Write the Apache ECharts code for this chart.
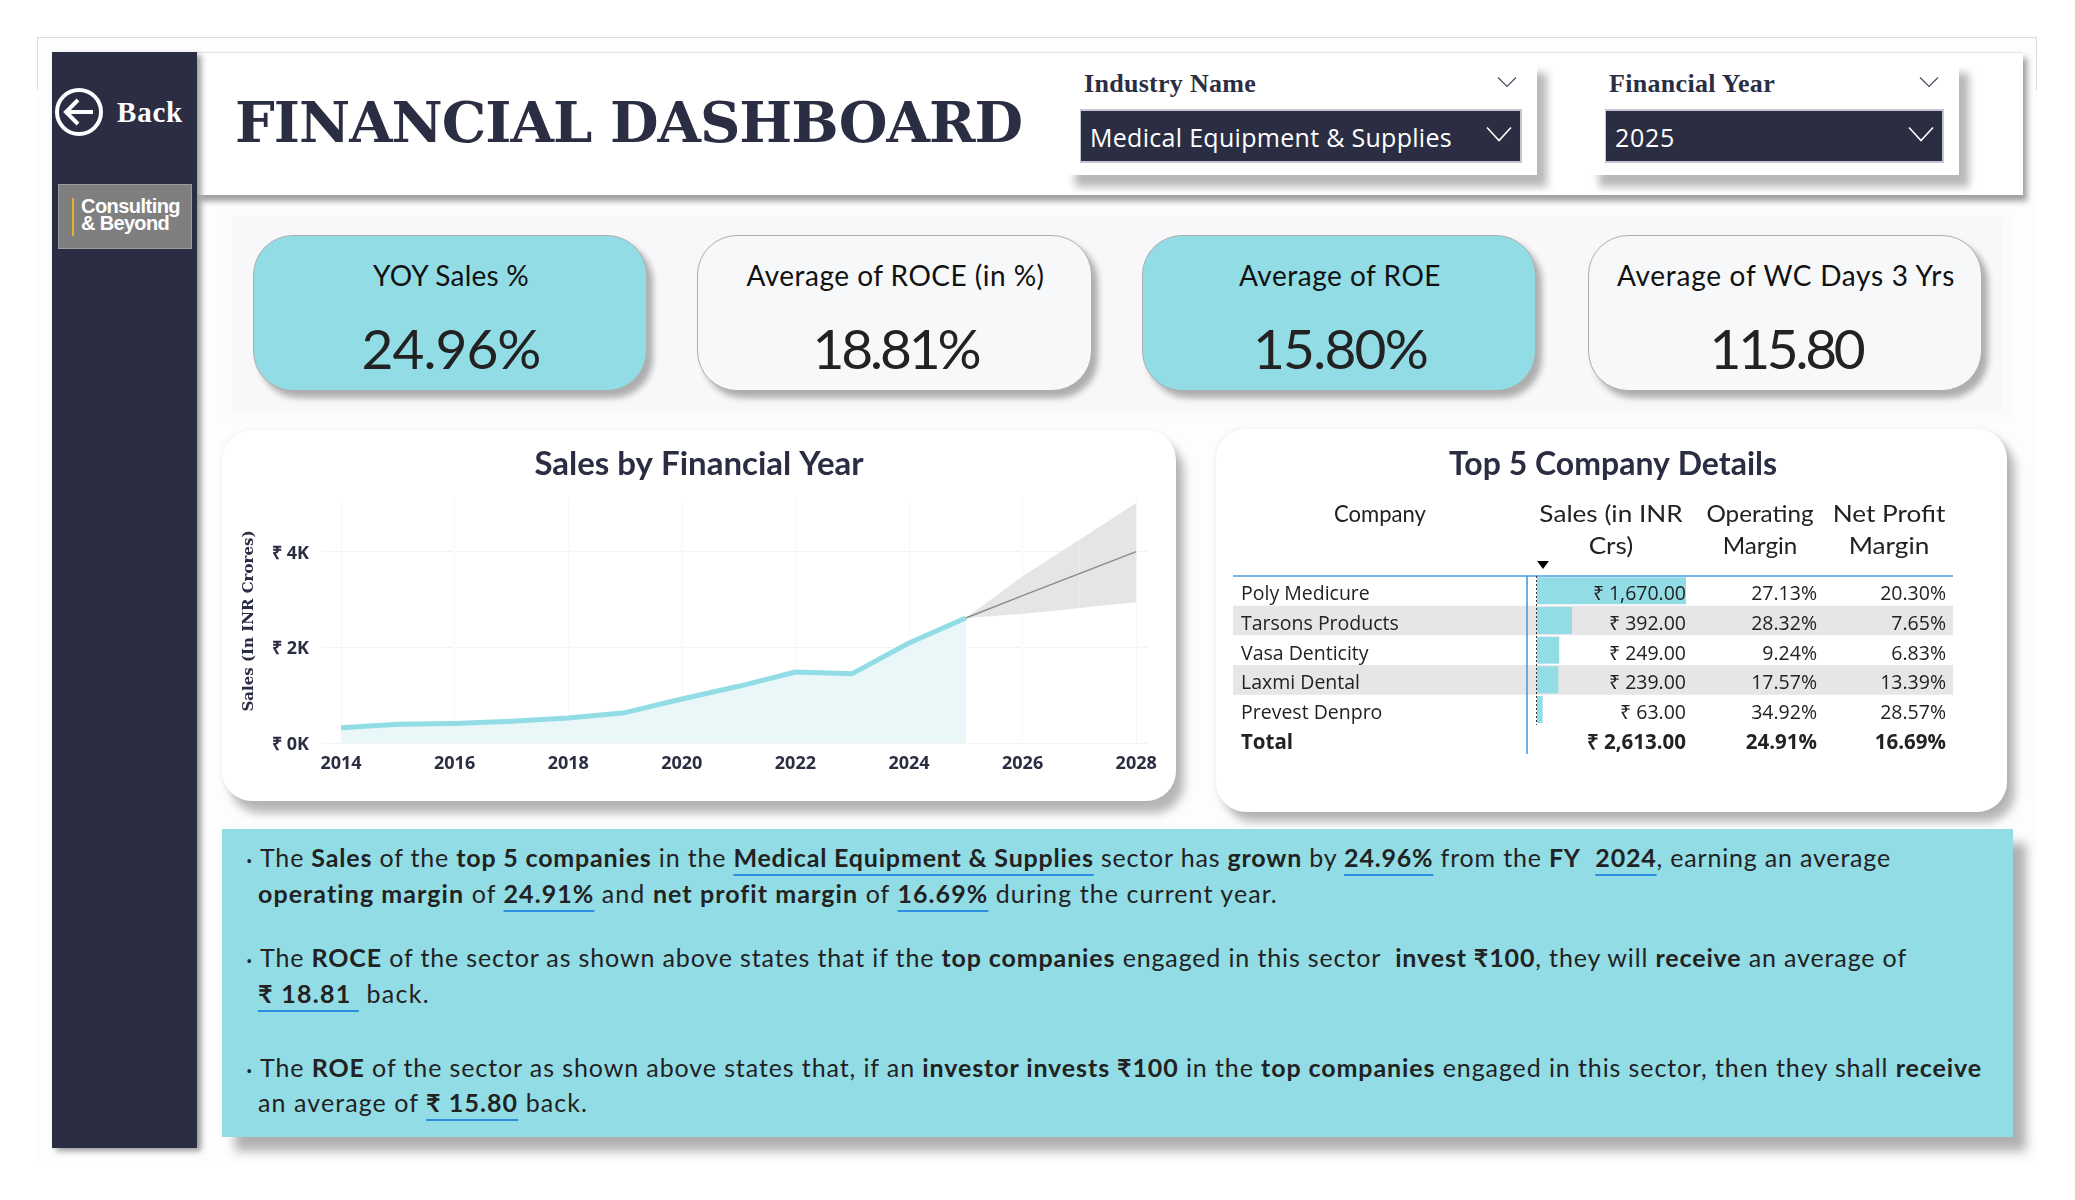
<!DOCTYPE html>
<html>
<head>
<meta charset="utf-8">
<title>Financial Dashboard</title>
<script src="https://cdn.jsdelivr.net/npm/echarts@6/dist/echarts.min.js"></script>
<style>
html,body{margin:0;padding:0;background:#fff;width:2075px;height:1200px;overflow:hidden}
#page{position:relative;width:2075px;height:1200px;overflow:hidden}
.box{position:absolute;box-sizing:border-box}
.t{position:absolute;white-space:pre;line-height:1;width:max-content}
.t b{font-weight:700}
.t u{font-weight:700;text-decoration:underline;text-decoration-color:#2a8fdc;text-decoration-thickness:2px;text-underline-offset:7px}
svg{position:absolute;left:0;top:0;overflow:visible}
</style>
</head>
<body>
<div id="page"></div>
<script>
/* ---------- data ---------- */
const salesYears   = [2014,2015,2016,2017,2018,2019,2020,2021,2022,2023,2024,2025];
const salesValues  = [320,390,410,453,522,634,920,1185,1484,1450,2091,2613];
const forecastYears  = [2025,2026,2027,2028];
const forecastValues = [2613,3080,3540,4000];
const forecastLower  = [2613,2697,2822,2941];
const forecastUpper  = [2613,3484,4250,5017];
const xTickYears = [2014,2016,2018,2020,2022,2024,2026,2028];
const yTickValues = [0,2000,4000];

const companies = ['Poly Medicure','Tarsons Products','Vasa Denticity','Laxmi Dental','Prevest Denpro','Total'];
const companySales = [1670,392,249,239,63,2613];
const operatingMargins = ['27.13%','28.32%','9.24%','17.57%','34.92%','24.91%'];
const netProfitMargins = ['20.30%','7.65%','6.83%','13.39%','28.57%','16.69%'];
const tableHeaders = [['Company'],['Sales (in INR','Crs)'],['Operating','Margin'],['Net Profit','Margin']];

const kpiLabels = ['YOY Sales %','Average of ROCE (in %)','Average of ROE','Average of WC Days 3 Yrs'];
const kpiValues = ['24.96%','18.81%','15.80%','115.80'];
const filterNames = ['Industry Name','Financial Year'];
const filterValues = ['Medical Equipment & Supplies','2025'];

const commentary = [
 'The <b>Sales</b> of the <b>top 5 companies</b> in the <u>Medical Equipment &amp; Supplies</u> sector has <b>grown</b> by <u>24.96%</u> from the <b>FY</b>  <u>2024</u>, earning an average',
 '<b>operating margin</b> of <u>24.91%</u> and <b>net profit margin</b> of <u>16.69%</u> during the current year.',
 'The <b>ROCE</b> of the sector as shown above states that if the <b>top companies</b> engaged in this sector  <b>invest ₹100</b>, they will <b>receive</b> an average of',
 '<u>₹ 18.81 </u> back.',
 'The <b>ROE</b> of the sector as shown above states that, if an <b>investor invests ₹100</b> in the <b>top companies</b> engaged in this sector, then they shall <b>receive</b>',
 'an average of <u>₹ 15.80</u> back.'
];

/* ---------- colours and fonts ---------- */
const NAVY='#2B2E43', TEAL='#92DCE5', INK='#222222';
const SANS='"Open Sans"', HAND='Lato', SERIF='"Liberation Serif"', WIDE_SERIF='"DejaVu Serif"';

/* ---------- page furniture ---------- */
const page=document.getElementById('page');
function box(x,y,w,h,css){
  const d=document.createElement('div');d.className='box';
  d.style.cssText=`left:${x}px;top:${y}px;width:${w}px;height:${h}px;${css||''}`;
  page.appendChild(d);return d;
}
const mc=document.createElement('canvas').getContext('2d');
function T(html,o){
  const d=document.createElement('div');d.className='t';d.innerHTML=html;
  const font=`${o.weight||400} ${o.size}px ${o.font}`;
  d.style.font=font;d.style.lineHeight='1';d.style.color=o.color||INK;
  page.appendChild(d);
  mc.font=font;
  const m=mc.measureText('Hg');
  const top=o.base-((o.size-(m.fontBoundingBoxAscent+m.fontBoundingBoxDescent))/2+m.fontBoundingBoxAscent);
  d.style.top=top+'px';
  let w=d.getBoundingClientRect().width;
  if(o.w){
    d.style.letterSpacing=((o.w-w)/d.textContent.length)+'px';
    w=o.w;
  }
  d.style.left=(o.cx!==undefined?o.cx-w/2:o.x)+'px';
  return d;
}
const svgNS='http://www.w3.org/2000/svg';
function svgEl(parent,name,attrs){
  const e=document.createElementNS(svgNS,name);
  for(const k in attrs)e.setAttribute(k,attrs[k]);
  parent.appendChild(e);return e;
}
function svgLayer(z){
  const s=svgEl(page,'svg',{width:2075,height:1200});
  s.style.zIndex=z||1;s.style.pointerEvents='none';return s;
}
function chevron(s,cx,cy,w,h,color,sw){
  svgEl(s,'polyline',{points:`${cx-w/2},${cy-h/2} ${cx},${cy+h/2} ${cx+w/2},${cy-h/2}`,fill:'none',stroke:color,'stroke-width':sw});
}

/* backdrop */
box(37,37,2000,1125,'background:#FDFDFD;');
box(37,37,2000,53,'border:1px solid #dcdcdc;border-bottom:none;');
box(222,210,1790,207,'background:#FBFBFC;');
box(233,217,1769,194,'background:#F8F8FA;');

/* header + side bar */
box(197,52,1826,143,'background:#fff;border-top:1px solid #e4e4e4;box-shadow:4px 6px 6px rgba(0,0,0,.38);');
box(52,52,145,1096,`background:${NAVY};box-shadow:4px 3px 6px rgba(0,0,0,.4);`);
box(58,184,134,65,'background:#7F7F7F;border:1px solid #9c9c9c;');
box(72,198,2,38,'background:#E6B422;');
T('FINANCIAL DASHBOARD',{x:235,base:142,w:787,size:56,weight:700,font:WIDE_SERIF,color:NAVY});
T('Back',{x:117,base:122,w:66,size:29,weight:700,font:SERIF,color:'#fff'});
T('Consulting',{x:81,base:213,w:99,size:20,weight:700,font:'"Liberation Sans"',color:'#fff'});
T('&amp; Beyond',{x:81,base:230,w:88,size:20,weight:700,font:'"Liberation Sans"',color:'#fff'});

/* filters */
const filterBoxes=[[1065,472,1080,442],[1589,370,1605,339]];
const filterX=[[1084,172,1090,362,1507,1499],[1609,166,1615,60,1929,1921]];
filterNames.forEach((n,i)=>{
  const b=filterBoxes[i],f=filterX[i];
  box(b[0],61,b[1],114,'background:#fff;box-shadow:10px 12px 8px rgba(0,0,0,.28);');
  box(b[2],109,b[3],54,`background:${NAVY};border:2px solid #c3c6d0;border-left-width:1px;`);
  T(n,{x:f[0],base:92,w:f[1],size:26,weight:700,font:SERIF,color:NAVY});
  T(filterValues[i],{x:f[2],base:147,w:f[3],size:25,font:SANS,color:'#fff'});
});

/* KPI cards */
const cardX=[253,697,1142,1588],cardW=[394,395,394,394];
kpiLabels.forEach((l,i)=>{
  const teal=i%2===0;
  box(cardX[i],235,cardW[i],156,`border-radius:40px;background:${teal?TEAL:'#F7F8FA'};border:1.5px solid #aeaeae;box-shadow:6px 7px 6px rgba(0,0,0,.3);`);
  const cx=cardX[i]+cardW[i]/2+1;
  const lw=[156,298,202,338][i], vw=[179,166,174,153][i];
  T(l,{cx,base:286,w:lw,size:28,font:HAND,color:'#111'});
  T(kpiValues[i],{cx,base:369,w:vw,size:55,font:HAND,color:INK});
});

/* chart panels */
box(222,430,954,371,'background:#fff;border-radius:30px;box-shadow:8px 12px 10px rgba(0,0,0,.28),0 0 6px rgba(0,0,0,.06);');
box(1216,429,791,383,'background:#fff;border-radius:30px;box-shadow:8px 10px 10px rgba(0,0,0,.28),0 0 6px rgba(0,0,0,.08);');

/* commentary */
box(222,829,1791,308,`background:${TEAL};box-shadow:13px 14px 10px rgba(0,0,0,.3);`);
const lineX=[260,258,260,258,260,258], lineEnd=[1891,1278,1907,430,1982,588], lineBase=[867,903,967,1003,1077,1112];
commentary.forEach((h,i)=>{
  T(h,{x:lineX[i],base:lineBase[i],w:lineEnd[i]-lineX[i],size:25,font:HAND,color:INK});
  if(i%2===0) T('•',{x:246,base:lineBase[i],size:17,font:SANS,color:INK});
});

/* icons on top */
const icons=svgLayer(3);
svgEl(icons,'circle',{cx:79,cy:112,r:22,fill:'none',stroke:'#fff','stroke-width':4});
svgEl(icons,'polyline',{points:'93,112 66,112',fill:'none',stroke:'#fff','stroke-width':4});
svgEl(icons,'polyline',{points:'78,100 66,112 78,124',fill:'none',stroke:'#fff','stroke-width':4});
filterX.forEach(f=>{
  chevron(icons,f[4],82,18,9,'#4a4d60',1.2);
  chevron(icons,f[5],134,24,13,'#fff',1.6);
});

/* ---------- line chart ---------- */
const lineDiv=document.createElement('div');
lineDiv.style.cssText='position:absolute;left:222px;top:430px;width:954px;height:371px;z-index:2';
page.appendChild(lineDiv);
const pairs=(xs,ys)=>xs.map((x,i)=>[x,ys[i]]);
echarts.init(lineDiv).setOption({
  animation:false,
  backgroundColor:'transparent',
  title:{text:'Sales by Financial Year',left:'center',top:13,
    textStyle:{fontFamily:HAND,fontWeight:700,fontSize:33,color:NAVY}},
  grid:{left:100,right:29,top:69,bottom:58,outerBoundsMode:'none'},
  xAxis:{type:'value',min:2013.665,max:2028.19,
    axisLine:{show:false},
    axisTick:{show:false,customValues:xTickYears},
    axisLabel:{customValues:xTickYears,formatter:v=>String(v),margin:12,
      fontFamily:SANS,fontWeight:700,fontSize:18,color:NAVY},
    splitLine:{show:true,lineStyle:{type:'dotted',color:'#f0f0f0',width:1}}},
  yAxis:{type:'value',min:0,max:5100,
    name:'Sales (In INR Crores)',nameLocation:'middle',nameGap:65,
    nameTextStyle:{fontFamily:WIDE_SERIF,fontWeight:700,fontSize:15,color:NAVY},
    axisLine:{show:false},
    axisTick:{show:false,customValues:yTickValues},
    axisLabel:{customValues:yTickValues,formatter:v=>'₹ '+v/1000+'K',margin:13,verticalAlign:'top',lineHeight:4,
      fontFamily:SANS,fontWeight:700,fontSize:18,color:NAVY},
    splitLine:{show:true,lineStyle:{type:'dotted',color:'#e8e8e8',width:1}}},
  series:[
    {name:'Confidence band',type:'custom',silent:true,z:2,clip:true,
     encode:{x:0,y:[1,2]},
     data:forecastYears.map((y,i)=>[y,forecastLower[i],forecastUpper[i]]),
     renderItem(p,api){
       const i=p.dataIndex;
       if(i>=forecastYears.length-1) return null;
       const pt=(k,a)=>api.coord([forecastYears[k],a[k]]);
       return {type:'polygon',
         shape:{points:[pt(i,forecastLower),pt(i+1,forecastLower),pt(i+1,forecastUpper),pt(i,forecastUpper)]},
         style:{fill:'#E5E5E5'}};
     }},
    {name:'Forecast',type:'line',symbol:'none',data:pairs(forecastYears,forecastValues),
     lineStyle:{color:'#8a8a8a',width:1.5},z:3},
    {name:'Sales',type:'line',symbol:'none',data:pairs(salesYears,salesValues),
     lineStyle:{color:TEAL,width:5,join:'round'},areaStyle:{color:'#E9F7F9',opacity:1},z:4}
  ]
});

/* ---------- company table ---------- */
const tableDiv=document.createElement('div');
tableDiv.style.cssText='position:absolute;left:1216px;top:429px;width:791px;height:383px;z-index:2';
page.appendChild(tableDiv);
const X0=1216,Y0=429;
const money=v=>'₹ '+v.toLocaleString('en-IN',{minimumFractionDigits:2,maximumFractionDigits:2});
const rowIdx=companies.map((c,i)=>[0,i]);
const headerCx=[1380,1611,1760,1889], headerStretch=[0.92,1.09,1.01,1.09];
const headerGraphics=[];
tableHeaders.forEach((lines,c)=>lines.forEach((s,r)=>headerGraphics.push({
  type:'text',x:headerCx[c]-X0,y:[514,546][r]-Y0,scaleX:headerStretch[c],
  style:{text:s,textAlign:'center',textVerticalAlign:'middle',
    font:`400 24px ${HAND}`,fill:INK}})));
echarts.init(tableDiv).setOption({
  animation:false,
  backgroundColor:'transparent',
  title:{text:'Top 5 Company Details',left:392,textAlign:'center',top:15,
    textStyle:{fontFamily:HAND,fontWeight:700,fontSize:32,color:NAVY}},
  graphic:[
    ...headerGraphics,
    {type:'polygon',shape:{points:[[1537-X0,561-Y0],[1549-X0,561-Y0],[1543-X0,569-Y0]]},style:{fill:'#000'},z:9},
    {type:'line',shape:{x1:1233-X0,y1:576-Y0,x2:1953-X0,y2:576-Y0},style:{stroke:'#4a9ade',lineWidth:1.6},z:9},
    {type:'line',shape:{x1:1527-X0,y1:576-Y0,x2:1527-X0,y2:754-Y0},style:{stroke:'#4a9ade',lineWidth:1.6},z:9},
    {type:'line',shape:{x1:1536.5-X0,y1:576-Y0,x2:1536.5-X0,y2:725-Y0},style:{stroke:'#333',lineWidth:1,lineDash:[2,2]},z:9}
  ],
  grid:{left:321,top:147,width:149,height:178,outerBoundsMode:'none'},
  xAxis:{type:'value',min:0,max:1670,show:false},
  yAxis:{type:'category',inverse:true,data:companies,
    axisLine:{show:false},axisTick:{show:false},axisLabel:{show:false}},
  series:[
    {name:'Row stripes',type:'custom',silent:true,z:1,encode:{x:0,y:1},data:rowIdx.filter(r=>r[1]%2===1&&r[1]<5),
     renderItem(p,api){
       const y=api.coord([0,api.value(1)])[1],h=api.size([0,1])[1];
       return {type:'rect',shape:{x:1233-X0,y:y-h/2,width:720,height:h},style:{fill:'#E6E6E6'}};
     }},
    {name:'Sales',type:'bar',z:6,barWidth:27,itemStyle:{color:TEAL},
     data:companySales.map((v,i)=>i===companies.length-1?null:v)},
    {name:'Cells',type:'custom',silent:true,z:7,encode:{x:0,y:1},data:rowIdx,
     renderItem(p,api){
       const i=api.value(1),y=api.coord([0,i])[1],bold=i===companies.length-1;
       const font=`${bold?700:400} ${bold?20.5:19.5}px ${SANS}`;
       const cell=(s,pos,align)=>({type:'text',x:pos-X0,y:y+4,
         style:{text:s,textAlign:align,textVerticalAlign:'middle',font,fill:INK}});
       return {type:'group',children:[
         cell(companies[i],1241,'left'),
         cell(money(companySales[i]),1686,'right'),
         cell(operatingMargins[i],1817,'right'),
         cell(netProfitMargins[i],1946,'right')]};
     }}
  ]
});
</script>
</body>
</html>
